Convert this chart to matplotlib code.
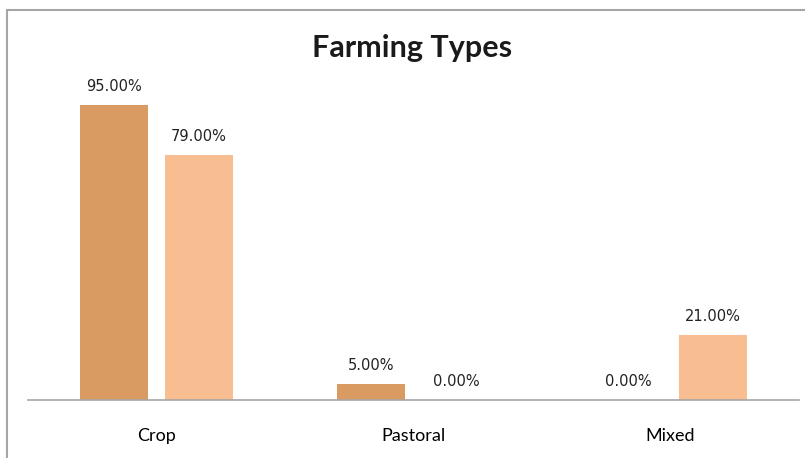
import matplotlib
matplotlib.use('Agg')
import numpy as np
import matplotlib.pyplot as plt
from matplotlib.patches import Rectangle

categories = ['Crop', 'Pastoral', 'Mixed']
series_a = [95.0, 5.0, 0.0]
series_b = [79.0, 0.0, 21.0]

color_a = '#D99B62'
color_b = '#F8BE92'

fig = plt.figure(figsize=(8.05, 4.58), dpi=100)
fig.patch.set_facecolor('white')
# chart border (only left/top visible in the crop)
fig.patches.append(Rectangle((7/805, -0.1), 1.2, 1.1 - 10/458,
                             transform=fig.transFigure, fill=False,
                             edgecolor='#A6A6A6', linewidth=1.5))

ax = fig.add_axes([28/805, 1 - 400/458, (799 - 28)/805, (400 - 89.5)/458])
x = np.arange(len(categories))
w = 0.265
off = 0.1655
ax.bar(x - off, series_a, w, color=color_a)
ax.bar(x + off, series_b, w, color=color_b)

for xs, vals in [(x - off, series_a), (x + off, series_b)]:
    for xi, v in zip(xs, vals):
        ax.annotate('{:.2f}%'.format(v), (xi, v), xytext=(0, 8), textcoords='offset points',
                    ha='center', va='bottom', fontsize=10.5, family='DejaVu Sans',
                    color='#222222')

ax.set_xlim(-0.5, 2.5)
ax.set_ylim(0, 100)
ax.set_xticks(x)
ax.set_xticklabels(categories, fontsize=13, family='Lato')
ax.tick_params(axis='x', length=0, pad=20)
ax.set_yticks([])
for s in ['top', 'right', 'left']:
    ax.spines[s].set_visible(False)
ax.spines['bottom'].set_color('#A6A6A6')
ax.spines['bottom'].set_linewidth(1.2)

fig.text(412/805, 1 - 48/458, 'Farming Types', ha='center', va='center',
         fontsize=22, fontweight='bold', family='Lato', color='#1a1a1a')

fig.savefig('out.png', dpi=100)
